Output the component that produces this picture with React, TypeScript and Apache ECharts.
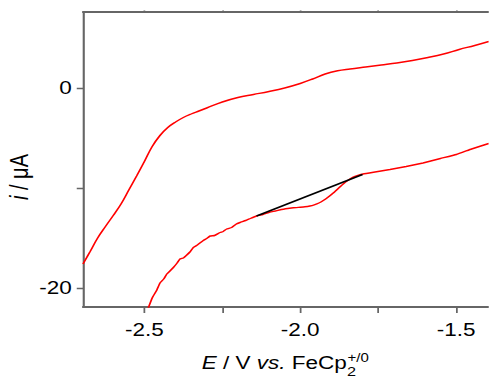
import React, { useEffect, useRef } from "react";
import * as echarts from "echarts";

// Data (potential E / V vs FeCp2+/0, current i / µA)
const upperE = [-2.697, -2.675, -2.65, -2.625, -2.6, -2.575, -2.55, -2.525, -2.5, -2.475, -2.45, -2.425, -2.4, -2.375, -2.35, -2.325, -2.3, -2.25, -2.2, -2.15, -2.1, -2.05, -2.0, -1.96, -1.92, -1.88, -1.84, -1.79, -1.74, -1.69, -1.64, -1.59, -1.54, -1.49, -1.44, -1.395];
const upperI = [-17.6, -16.4, -15.0, -13.85, -12.75, -11.6, -10.2, -8.8, -7.35, -5.85, -4.75, -3.95, -3.4, -2.95, -2.6, -2.3, -2.0, -1.4, -0.95, -0.65, -0.35, 0.0, 0.45, 0.9, 1.4, 1.72, 1.9, 2.1, 2.3, 2.5, 2.75, 3.05, 3.4, 3.85, 4.25, 4.65];

const lowerE = [-2.49, -2.475, -2.46, -2.45, -2.438, -2.428, -2.418, -2.407, -2.395, -2.386, -2.375, -2.364, -2.354, -2.343, -2.33, -2.311, -2.3, -2.289, -2.275, -2.257, -2.247, -2.236, -2.22, -2.205, -2.193, -2.175, -2.16, -2.14, -2.12, -2.097, -2.08, -2.06, -2.04, -2.022, -2.0, -1.985, -1.969, -1.955, -1.94, -1.926, -1.91, -1.894, -1.878, -1.862, -1.845, -1.83, -1.815, -1.798, -1.76, -1.712, -1.66, -1.606, -1.55, -1.499, -1.45, -1.395];
const lowerI = [-22.2, -21.0, -20.2, -19.5, -19.1, -18.6, -18.3, -17.95, -17.5, -17.1, -17.0, -16.7, -16.4, -15.95, -15.7, -15.25, -15.05, -14.8, -14.75, -14.45, -14.35, -14.1, -13.95, -13.6, -13.45, -13.25, -13.05, -12.8, -12.65, -12.4, -12.3, -12.15, -12.05, -11.97, -11.92, -11.88, -11.8, -11.68, -11.5, -11.25, -10.9, -10.5, -10.05, -9.6, -9.2, -8.92, -8.75, -8.6, -8.4, -8.15, -7.85, -7.5, -7.05, -6.65, -6.1, -5.55];

const baselineE = [-2.14, -1.8];
const baselineI = [-12.8, -8.65];

const xTickValues = [-2.5, -2.25, -2.0, -1.75, -1.5];
const xLabelValues = [-2.5, -2.0, -1.5];
const yTickValues = [-20, -10, 0];
const yLabelValues = [-20, 0];

const K = 1.25;
const W = 489 / K;
const H = 380;
const FONT = "Liberation Sans, Arial, sans-serif";
const AXIS = "#666";

const pairs = (xs: number[], ys: number[]) => xs.map((x, i) => [x, ys[i]]);

export default function App() {
  const ref = useRef<HTMLDivElement>(null);
  useEffect(() => {
    if (!ref.current) return;
    const chart = echarts.init(ref.current, undefined, { renderer: "svg" });
    const xCommon = {
      type: "value" as const,
      min: -2.697,
      max: -1.395,
      splitLine: { show: false },
      axisLine: { show: true, onZero: false, lineStyle: { color: AXIS, width: 1.8 } },
    };
    chart.setOption({
      animation: false,
      backgroundColor: "#fff",
      grid: { left: 66.4, right: 0, top: 12, bottom: 73 },
      xAxis: [
        {
          ...xCommon,
          position: "bottom",
          axisTick: { show: true, inside: false, length: 6, customValues: xTickValues, lineStyle: { color: AXIS, width: 1.4 } },
          axisLabel: {
            customValues: xLabelValues,
            formatter: (v: number) => v.toFixed(1),
            fontFamily: FONT,
            fontSize: 18,
            color: "#000",
            margin: 14,
          },
        },
        {
          ...xCommon,
          position: "top",
          axisTick: { show: true, inside: false, length: 1.5, customValues: xTickValues, lineStyle: { color: AXIS, width: 1.4 } },
          axisLabel: { show: false },
        },
      ],
      yAxis: {
        type: "value",
        min: -21.9,
        max: 7.6,
        splitLine: { show: false },
        axisLine: { show: true, onZero: false, lineStyle: { color: AXIS, width: 1.7 } },
        axisTick: { show: true, inside: false, length: 5, customValues: yTickValues, lineStyle: { color: AXIS, width: 1.4 } },
        axisLabel: {
          customValues: yLabelValues,
          formatter: (v: number) => String(v),
          fontFamily: FONT,
          fontSize: 18,
          color: "#000",
          margin: 9,
        },
      },
      graphic: [
        {
          type: "text",
          x: 161.4,
          y: 363,
          style: {
            text: "{i|E} / V {i|vs.} FeCp",
            rich: { i: { fontStyle: "italic", fontSize: 18, fontFamily: FONT, fill: "#000" } },
            fontSize: 18,
            fontFamily: FONT,
            fill: "#000",
            align: "left",
            verticalAlign: "middle",
          },
        },
        {
          type: "text",
          x: 277.5,
          y: 372,
          style: { text: "2", fontSize: 13, fontFamily: FONT, fill: "#000", align: "left", verticalAlign: "middle" },
        },
        {
          type: "text",
          x: 278,
          y: 358,
          style: { text: "+/0", fontSize: 12, fontFamily: FONT, fill: "#000", align: "left", verticalAlign: "middle" },
        },
        {
          type: "text",
          x: 16,
          y: 177,
          rotation: Math.PI / 2,
          style: {
            text: "{i|i} / μA",
            rich: { i: { fontStyle: "italic", fontSize: 20, fontFamily: FONT, fill: "#000" } },
            fontSize: 20,
            fontFamily: FONT,
            fill: "#000",
            align: "center",
            verticalAlign: "middle",
          },
        },
      ],
      series: [
        {
          type: "line",
          data: pairs(upperE, upperI),
          showSymbol: false,
          smooth: 0.4,
          lineStyle: { color: "#ff0000", width: 1.4 },
        },
        {
          type: "line",
          data: pairs(lowerE, lowerI),
          showSymbol: false,
          smooth: 0.1,
          lineStyle: { color: "#ff0000", width: 1.4 },
        },
        {
          type: "line",
          data: pairs(baselineE, baselineI),
          showSymbol: false,
          lineStyle: { color: "#000", width: 1.4 },
        },
      ],
    });
    return () => chart.dispose();
  }, []);
  return (
    <div
      style={{
        position: "fixed",
        left: 0,
        top: 0,
        width: W,
        height: H,
        transform: `scaleX(${K})`,
        transformOrigin: "0 0",
        background: "#fff",
      }}
    >
      <div ref={ref} style={{ width: W, height: H }} />
    </div>
  );
}
